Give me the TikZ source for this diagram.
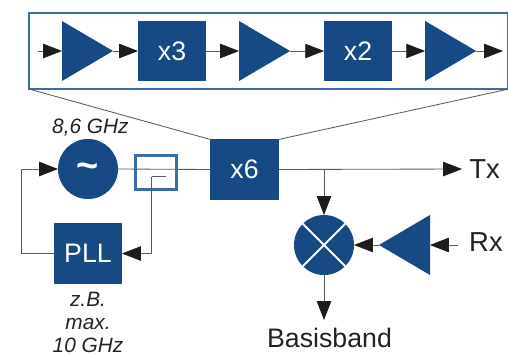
\documentclass[tikz,border=0pt]{standalone}
\usepackage{xcolor}
\usepackage{fontspec}
\setmainfont{Liberation Sans}
\usetikzlibrary{arrows.meta, positioning, calc, shapes.geometric}
\definecolor{blockblue}{HTML}{174A85}
\definecolor{frameblue}{HTML}{3B6DAB}
\definecolor{wiregray}{HTML}{5A5A5A}
\definecolor{tipblack}{HTML}{1C1C1C}
\definecolor{textblack}{HTML}{222222}

\begin{document}
\begin{tikzpicture}[x=0.025cm,y=-0.025cm,line width=0.6pt,draw=wiregray,text=textblack,
			every node/.style={outer sep=0pt},
			>={Triangle[length=0.47cm,width=0.36cm,color=tipblack]},
			block node/.style={rectangle,fill=blockblue,text=white,inner sep=0pt,minimum width=1.7cm,minimum height=1.5cm,font=\fontsize{19}{20}\selectfont},
			amp node/.style={isosceles triangle,isosceles triangle stretches,fill=blockblue,inner sep=0pt,minimum width=1.5cm,minimum height=1.275cm},
			round node/.style={circle,fill=blockblue,inner sep=0pt,minimum size=1.5cm},
			label node/.style={inner sep=0pt,font=\fontsize{19.5}{20}\selectfont},
			note node/.style={inner sep=0pt,align=center,font=\fontsize{14.8}{16.3}\selectfont\itshape}]
	
	\useasboundingbox (0,0) rectangle (508,356);
	
	% zoomed chain of the multiplier
	\node[draw=frameblue,line width=1.8pt,inner sep=0pt,minimum width=11.99cm,minimum height=1.9cm] (frame) at (268.75,51) {};
	\node[amp node,anchor=lower side] (amp1) at (62,51) {};
	\node[block node] (x3) [right=0.625cm of amp1.apex] {x3};
	\node[amp node,anchor=lower side] (amp2) [right=0.825cm of x3.east,anchor=lower side] {};
	\node[block node] (x2) [right=0.85cm of amp2.apex] {x2};
	\node[amp node,anchor=lower side] (amp3) [right=0.825cm of x2.east,anchor=lower side] {};
	\coordinate (chainin) at (38,51);
	\coordinate (chainout) at (503,51);
	
	% main blocks
	\node[round node] (osc) at (88,169) {};
	\node[text=white,inner sep=0pt,font=\fontsize{27}{27}\selectfont\bfseries] (tilde) at (88,171) {\textasciitilde};
	\node[draw=frameblue,line width=2pt,inner sep=0pt,minimum width=1.03cm,minimum height=0.85cm] (coupler) at (156,172.5) {};
	\node[block node] (x6) at (244.5,169.5) {x6};
	\node[block node] (pll) at (88,253.5) {PLL};
	\node[round node] (mix) at (324,245) {};
	\node[amp node,shape border rotate=180,anchor=lower side] (rxamp) at (430,245) {};
	
	\node[label node] (tx) at (484.5,169) {Tx};
	\node[label node] (rx) at (486,242) {Rx};
	\node[label node,font=\fontsize{19}{20}\selectfont] (bb) at (329.5,338) {Basisband};
	\node[note node,xshift=0.06cm] (fosc) [above=0.06cm of osc] {8,6 GHz};
	\node[note node] (fpll) [below=0.22cm of pll] {z.B.\\max.\\10 GHz};
	
	\coordinate (txend) at (462,169);
	\coordinate (rxin) at (458,245);
	\coordinate (bbend) at (324,320);
	\coordinate (stub) at (151.5,176.5);
	\coordinate (stubend) at (166,176.5);
	\coordinate (loop) at (21,169);
	
	\draw (frame.south west) -- (x6.north west);
	\draw (frame.south east) -- (x6.north east);
	
	\draw[->] (chainin) -- (amp1.lower side);
	\draw[->] (amp1.apex) -- (x3.west);
	\draw[->] (x3.east) -- (amp2.lower side);
	\draw[->] (amp2.apex) -- (x2.west);
	\draw[->] (x2.east) -- (amp3.lower side);
	\draw[->] (amp3.apex) -- (chainout);
	
	\draw (osc.east) -- (x6.west);
	\draw[->] (x6.east) -- (txend);
	\draw[->] (x6.east -| mix.north) -- (mix.north);
	\draw[->] (mix.south) -- (bbend);
	\draw[->] (rxin) -- (rxamp.lower side);
	\draw[->] (rxamp.apex) -- (mix.east);
	\draw[->] (pll.west) -| (loop) -- (osc.west);
	\draw[->] (stub) |- (pll.east);
	\draw[line width=1pt] (stub) -- (stubend);
	
	\draw[white,line width=1.4pt] (mix.north west) -- (mix.south east);
	\draw[white,line width=1.4pt] (mix.north east) -- (mix.south west);
	
\end{tikzpicture}
\end{document}
